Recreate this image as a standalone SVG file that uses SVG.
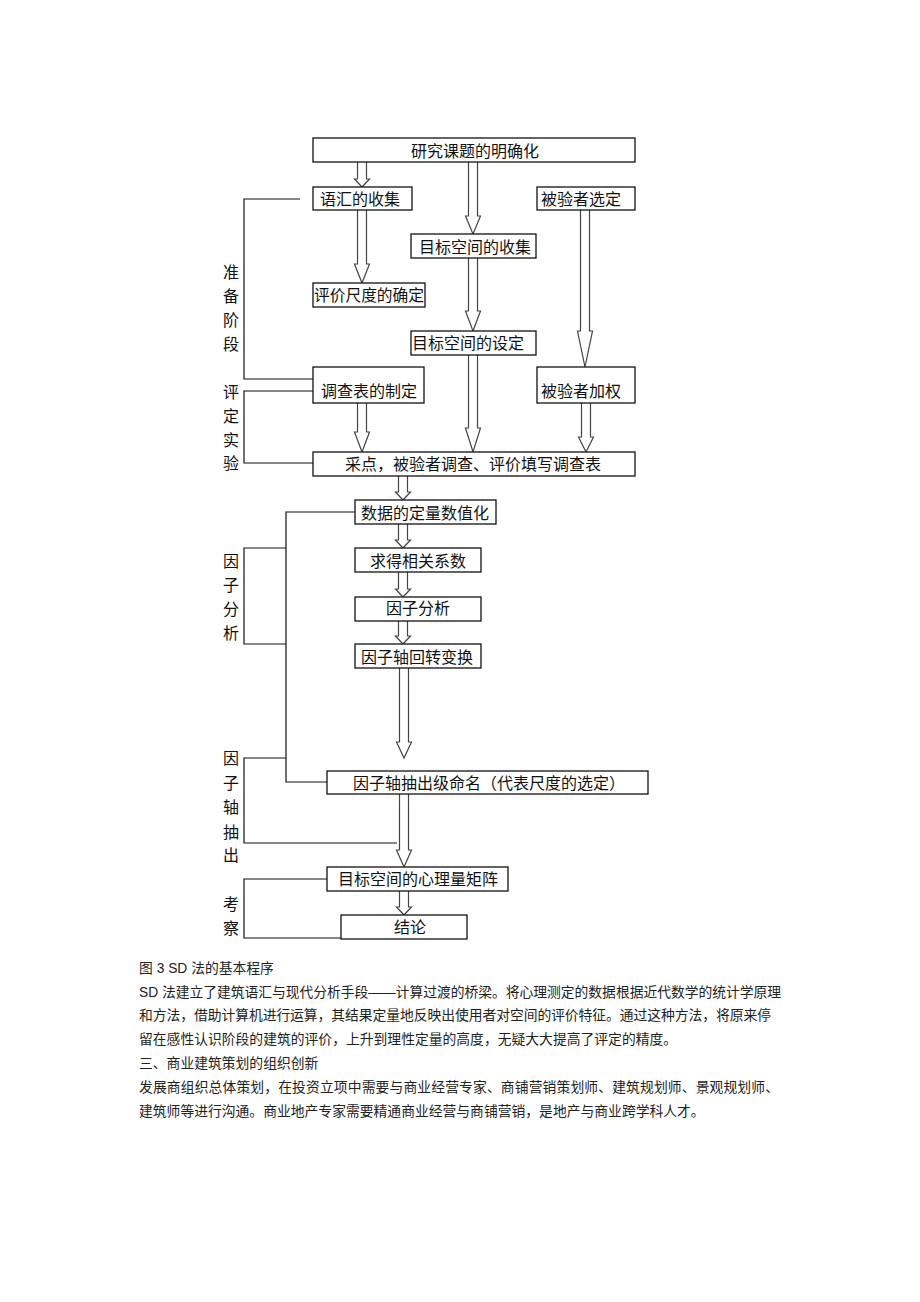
<svg xmlns="http://www.w3.org/2000/svg" width="920" height="1302" viewBox="0 0 920 1302">
<style>
.box{fill:#fff;stroke:#111;stroke-width:1.3}
.t{font-family:"Noto Sans CJK SC",sans-serif;font-size:16px;fill:#111}
.lbl{font-family:"Noto Sans CJK SC",sans-serif;font-size:16px;fill:#111;text-anchor:middle}
.arr{fill:#fff;stroke:#444;stroke-width:1.2;stroke-linejoin:miter}
.br{fill:none;stroke:#111;stroke-width:1.2}
.body{font-family:"Liberation Sans","Noto Sans CJK SC",sans-serif;font-size:13.8px;fill:#222}
</style>
<rect width="920" height="1302" fill="#fff"/>
<g id="connectors">
<path class="arr" d="M357.5 162V179H354.5L362 187L369.5 179H366.5V162"/>
<path class="arr" d="M468.5 162V216H465.5L473 234L480.5 216H477.5V162"/>
<path class="arr" d="M357.5 210V264H354.5L362 283L369.5 264H366.5V210"/>
<path class="arr" d="M580.5 210V331H577.5L585 367L592.5 331H589.5V210"/>
<path class="arr" d="M468.5 258V311H465.5L473 331L480.5 311H477.5V258"/>
<path class="arr" d="M357.5 403V432H354.5L362 452L369.5 432H366.5V403"/>
<path class="arr" d="M468.5 355V428H465.5L473 452L480.5 428H477.5V355"/>
<path class="arr" d="M581.5 403V437H578.5L586 452L593.5 437H590.5V403"/>
<path class="arr" d="M398.5 476V492H395.5L403 500L410.5 492H407.5V476"/>
<path class="arr" d="M398.5 524V540H395.5L403 548L410.5 540H407.5V524"/>
<path class="arr" d="M398.5 572V589H395.5L403 597L410.5 589H407.5V572"/>
<path class="arr" d="M398.5 621V636H395.5L403 644L410.5 636H407.5V621"/>
<path class="arr" d="M399.5 668V742H396.5L404 758L411.5 742H408.5V668"/>
<path class="arr" d="M399.5 794V850H396.5L404 867L411.5 850H408.5V794"/>
<path class="arr" d="M399.5 891V907H396.5L404 915L411.5 907H408.5V891"/>
<polyline class="br" points="300,199 244,199 244,379 313,379"/>
<polyline class="br" points="313,391 244,391 244,463 313,463"/>
<polyline class="br" points="355,512 286,512 286,782 327,782"/>
<polyline class="br" points="286,548 244,548 244,644 286,644"/>
<polyline class="br" points="286,758 244,758 244,843 397,843"/>
<polyline class="br" points="327,879 244,879 244,938 341,938"/>
</g>
<g id="n1"><rect class="box" x="313" y="138" width="322" height="24"/><text class="t" x="411" y="157">研究课题的明确化</text></g>
<g id="n2"><rect class="box" x="313" y="187" width="99" height="23"/><text class="t" x="320" y="205">语汇的收集</text></g>
<g id="n3"><rect class="box" x="537" y="187" width="98" height="23"/><text class="t" x="541" y="205">被验者选定</text></g>
<g id="n4"><rect class="box" x="411" y="234" width="125" height="24"/><text class="t" x="419" y="253">目标空间的收集</text></g>
<g id="n5"><rect class="box" x="313" y="283" width="112" height="24"/><text class="t" x="314" y="301" textLength="110" lengthAdjust="spacingAndGlyphs">评价尺度的确定</text></g>
<g id="n6"><rect class="box" x="411" y="331" width="125" height="24"/><text class="t" x="412" y="349">目标空间的设定</text></g>
<g id="n7"><rect class="box" x="313" y="367" width="111" height="36"/><text class="t" x="321" y="397">调查表的制定</text></g>
<g id="n8"><rect class="box" x="537" y="367" width="98" height="36"/><text class="t" x="541" y="397">被验者加权</text></g>
<g id="n9"><rect class="box" x="313" y="452" width="322" height="24"/><text class="t" x="345" y="470">采点，被验者调查、评价填写调查表</text></g>
<g id="n10"><rect class="box" x="355" y="500" width="141" height="24"/><text class="t" x="361" y="519">数据的定量数值化</text></g>
<g id="n11"><rect class="box" x="355" y="548" width="126" height="24"/><text class="t" x="370" y="567">求得相关系数</text></g>
<g id="n12"><rect class="box" x="355" y="597" width="126" height="24"/><text class="t" x="386" y="614">因子分析</text></g>
<g id="n13"><rect class="box" x="355" y="644" width="126" height="24"/><text class="t" x="361" y="663">因子轴回转变换</text></g>
<g id="n14"><rect class="box" x="327" y="771" width="321" height="23"/><text class="t" x="353" y="789">因子轴抽出级命名（代表尺度的选定）</text></g>
<g id="n15"><rect class="box" x="327" y="867" width="181" height="24"/><text class="t" x="338" y="885">目标空间的心理量矩阵</text></g>
<g id="n16"><rect class="box" x="341" y="915" width="126" height="24"/><text class="t" x="394" y="933">结论</text></g>
<g id="labels">
<text class="lbl" x="231" y="278">准</text><text class="lbl" x="231" y="302">备</text><text class="lbl" x="231" y="326">阶</text><text class="lbl" x="231" y="350">段</text>
<text class="lbl" x="231" y="398">评</text><text class="lbl" x="231" y="422">定</text><text class="lbl" x="231" y="446">实</text><text class="lbl" x="231" y="469">验</text>
<text class="lbl" x="231" y="567">因</text><text class="lbl" x="231" y="591">子</text><text class="lbl" x="231" y="615">分</text><text class="lbl" x="231" y="639">析</text>
<text class="lbl" x="231" y="764">因</text><text class="lbl" x="231" y="789">子</text><text class="lbl" x="231" y="813">轴</text><text class="lbl" x="231" y="838">抽</text><text class="lbl" x="231" y="861">出</text>
<text class="lbl" x="231" y="910">考</text><text class="lbl" x="231" y="934">察</text>
</g>
<g id="caption">
<text class="body" x="139" y="973">图 3  SD 法的基本程序</text>
<text class="body" x="139" y="997" textLength="642" lengthAdjust="spacing">SD 法建立了建筑语汇与现代分析手段——计算过渡的桥梁。将心理测定的数据根据近代数学的统计学原理</text>
<text class="body" x="139" y="1020" textLength="632" lengthAdjust="spacing">和方法，借助计算机进行运算，其结果定量地反映出使用者对空间的评价特征。通过这种方法，将原来停</text>
<text class="body" x="139" y="1044">留在感性认识阶段的建筑的评价，上升到理性定量的高度，无疑大大提高了评定的精度。</text>
<text class="body" x="139" y="1068">三、商业建筑策划的组织创新</text>
<text class="body" x="139" y="1092" textLength="640" lengthAdjust="spacing">发展商组织总体策划，在投资立项中需要与商业经营专家、商铺营销策划师、建筑规划师、景观规划师、</text>
<text class="body" x="139" y="1116">建筑师等进行沟通。商业地产专家需要精通商业经营与商铺营销，是地产与商业跨学科人才。</text>
</g>
</svg>
